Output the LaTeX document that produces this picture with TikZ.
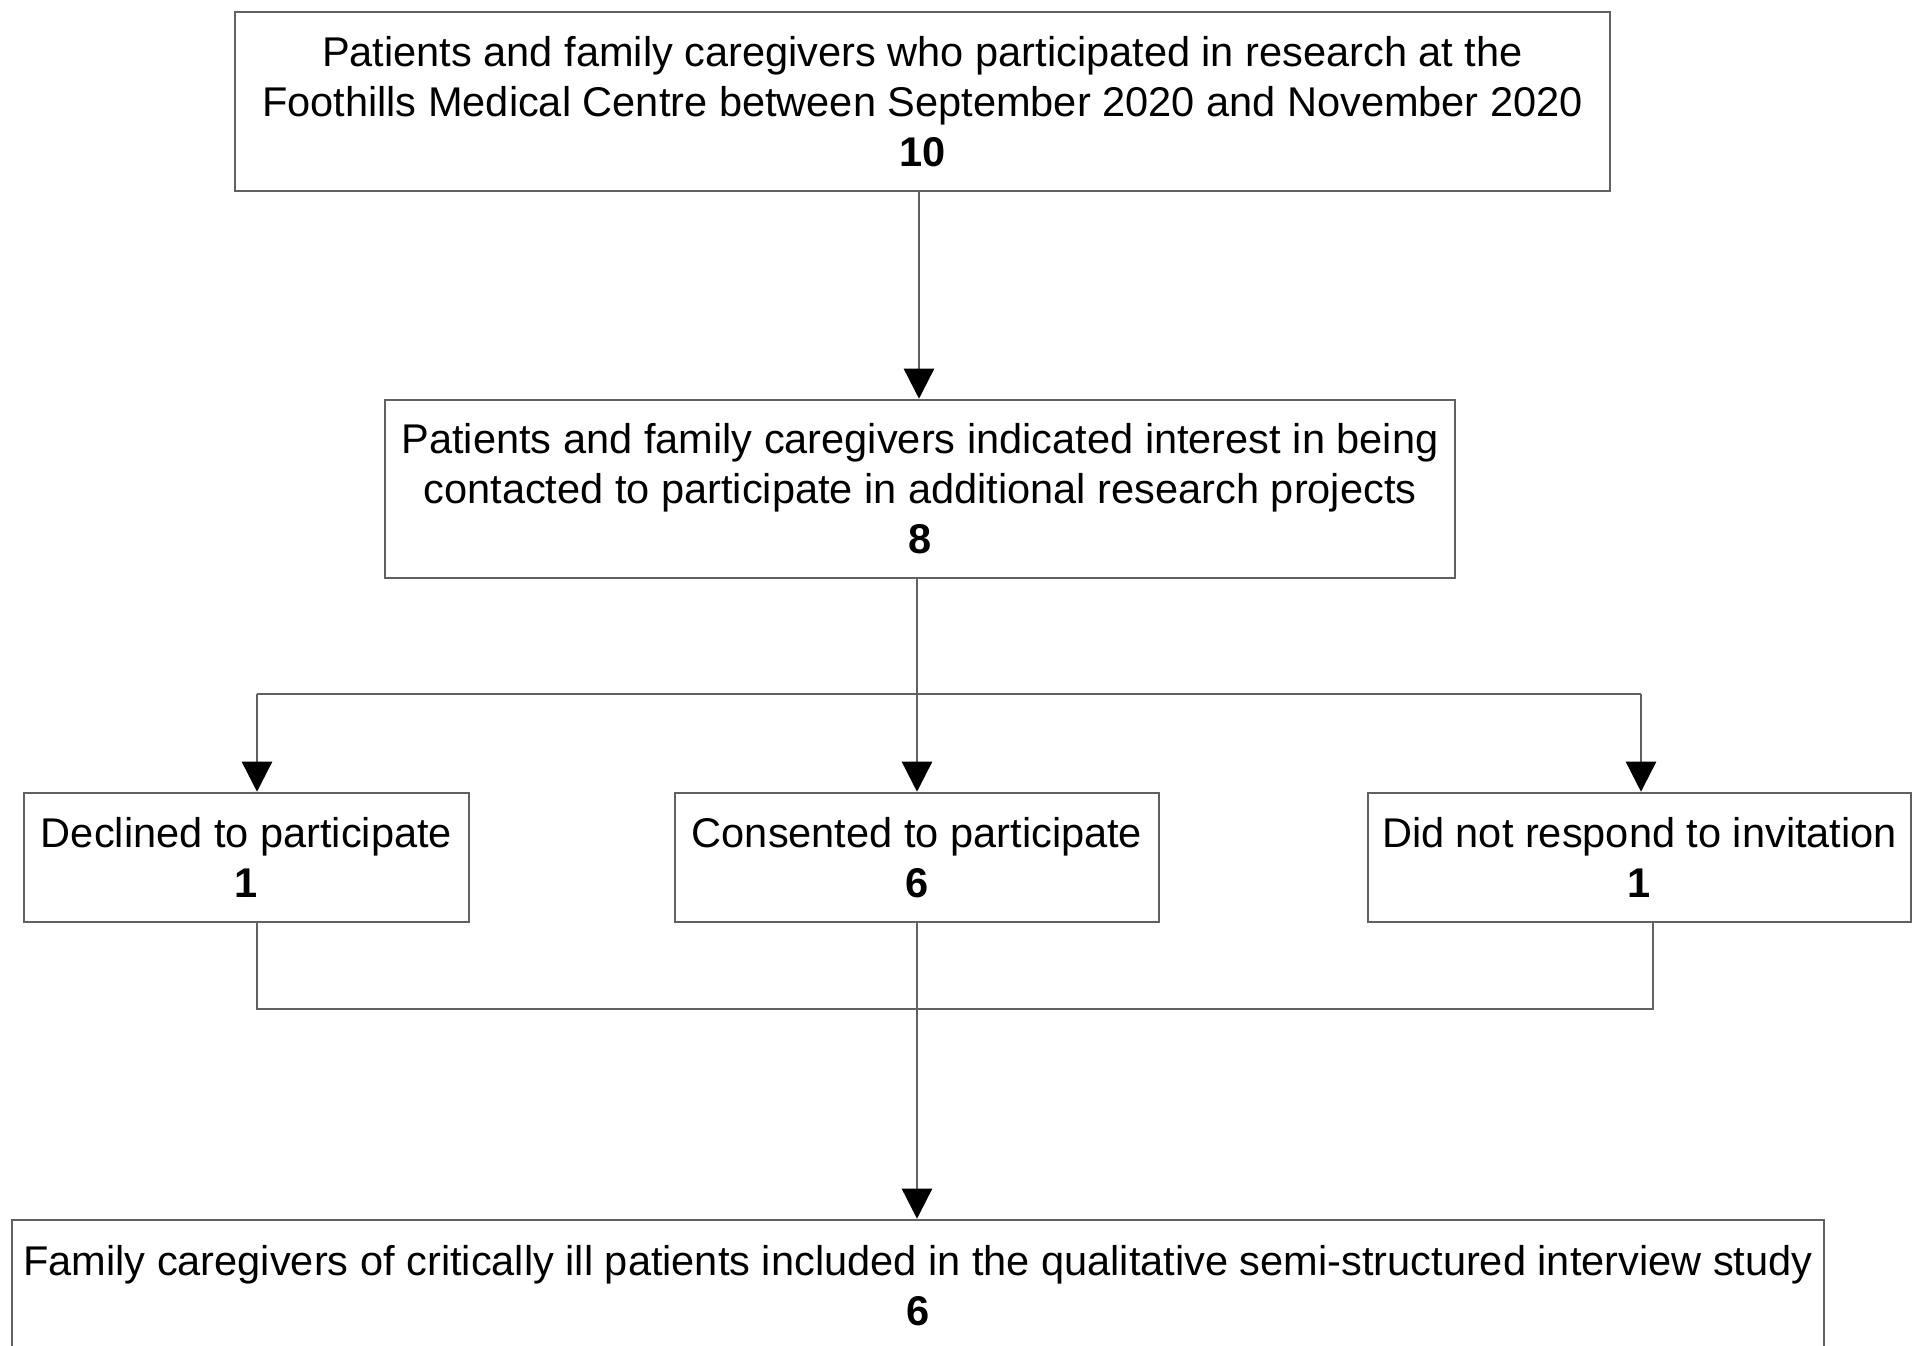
\documentclass[tikz,border=0pt]{standalone}
\usepackage{fontspec}
\setmainfont{Liberation Sans}
\usepackage{tikz}
\usetikzlibrary{arrows.meta}
\usetikzlibrary{positioning}
\usetikzlibrary{calc}
\definecolor{linegray}{rgb}{0.38,0.38,0.38}
\tikzset{box/.style={draw=linegray, line width=2.5bp, fill=white, align=center, inner sep=0pt,
    font=\fontsize{41.7}{50.2}\selectfont},
  link/.style={draw=linegray, line width=2.5bp},
  flow/.style={link, -{Triangle[width=30bp,length=30bp,fill=black,color=black]}}}

\begin{document}
\begin{tikzpicture}[x=1bp,y=1bp,line join=miter]
%%
\useasboundingbox (0.0,0.0) rectangle (1917.0,1346.0);
  \node (p_all) at (922.5,1244.5) [box,minimum width=1375bp,minimum height=179bp]
    {Patients and family caregivers who participated in research at the\\
     Foothills Medical Centre between September 2020 and November 2020\\ \textbf{10}};
  \node (p_int) at (920.0,857.0) [box,minimum width=1070bp,minimum height=178bp]
    {Patients and family caregivers indicated interest in being\\
     contacted to participate in additional research projects\\ \textbf{8}};
  \node (p_dec) at (246.5,488.5) [box,minimum width=445bp,minimum height=129bp]
    {Declined to participate\\ \textbf{1}};
  \node (p_con) at (917.0,488.5) [box,minimum width=484bp,minimum height=129bp]
    {Consented to participate\\ \textbf{6}};
  \node (p_nor) at (1639.5,488.5) [box,minimum width=543bp,minimum height=129bp]
    {Did not respond to invitation\\ \textbf{1}};
  \node (p_inc) at (918.0,60.0) [box,minimum width=1812bp,minimum height=132bp]
    {Family caregivers of critically ill patients included in the qualitative semi-structured interview study\\ \textbf{6}};
  \coordinate (split) at (917.0,652.0);
  \coordinate (split_dec) at (257.0,652.0);
  \coordinate (split_nor) at (1641.0,652.0);
  \coordinate (merge) at (917.0,337.0);
  \coordinate (merge_dec) at (257.0,337.0);
  \coordinate (merge_nor) at (1653.0,337.0);
  \draw [flow] (p_all.south -| 919,0) -- (p_int.north -| 919,0);
  \draw [flow] (p_int.south -| split) -- (p_con.north -| split);
  \draw [link] (split_dec) -- (split_nor);
  \draw [flow] (split_dec) -- (split_dec |- p_dec.north);
  \draw [flow] (split_nor) -- (split_nor |- p_nor.north);
  \draw [link] (p_dec.south -| merge_dec) -- (merge_dec) -- (merge_nor) -- (p_nor.south -| merge_nor);
  \draw [flow] (p_con.south -| merge) -- (p_inc.north -| merge);
%
\end{tikzpicture}
\end{document}
